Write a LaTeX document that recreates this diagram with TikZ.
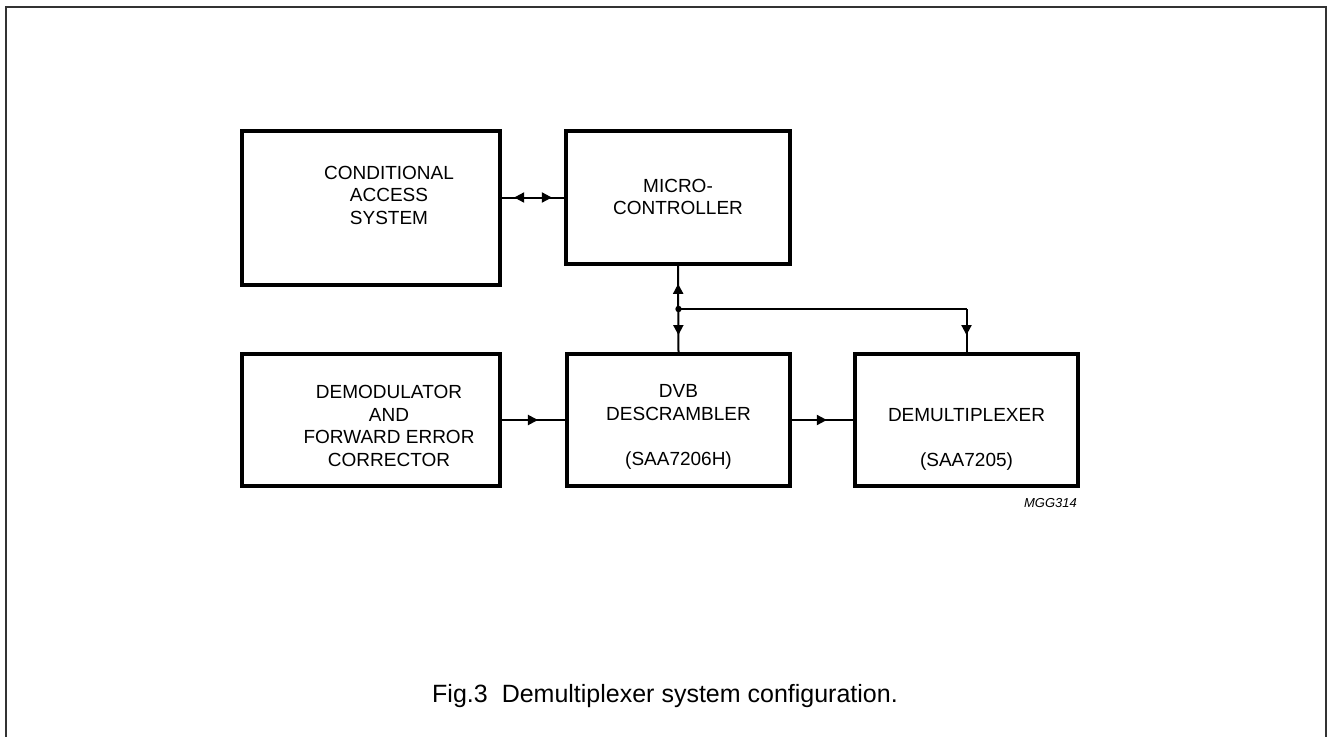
\documentclass[tikz,border=0pt]{standalone}
\usepackage{fontspec}
\setmainfont{Liberation Sans}
\usetikzlibrary{arrows.meta,decorations.markings}
\newcommand\boxfont{\fontsize{19}{22.5}\selectfont}
\tikzset{
  >={Triangle[length=10pt,width=10pt]},
  blk/.style={draw, line width=3.2pt, inner sep=0pt},
  txt/.style={align=center, inner sep=0pt, font=\boxfont},
  conn/.style={line width=2pt},
  bus/.style={line width=1.7pt},
  fwd/.style={postaction={decorate}, decoration={markings, mark=at position #1 with {\arrow{>}}}},
  duo/.style 2 args={postaction={decorate}, decoration={markings,
      mark=at position #1 with {\arrowreversed{>}},
      mark=at position #2 with {\arrow{>}}}},
}
\begin{document}
\begin{tikzpicture}[x=1pt, y=-1pt]
  %%%%% START %%%%%
  \useasboundingbox (0,0) rectangle (1327,736);
  \clip (0,0) rectangle (1327,736);
  \draw[line width=2pt, black!80] (6,7) rectangle (1326,800);

  % blocks
  \node[blk, minimum width=258pt, minimum height=154pt] (cas) at (371,208) {};
  \node[blk, minimum width=224pt, minimum height=133pt] (micro) at (678,197.5) {};
  \node[blk, minimum width=258pt, minimum height=132pt] (demod) at (371,420) {};
  \node[blk, minimum width=223pt, minimum height=132pt] (dvb) at (678.5,420) {};
  \node[blk, minimum width=223pt, minimum height=132pt] (demux) at (966.5,420) {};

  % texts
  \node[txt] (castxt) at (389,195) {CONDITIONAL\\ACCESS\\SYSTEM};
  \node[txt] (microtxt) at (678,197) {MICRO-\\CONTROLLER};
  \node[txt] (demodtxt) at (389,426) {DEMODULATOR\\AND\\FORWARD ERROR\\CORRECTOR};
  \node[txt] (dvbtxt) at (678.5,427) {DVB\\DESCRAMBLER\\[22.5pt](SAA7206H)};
  \node[txt] (demuxtxt) at (966.5,439) {DEMULTIPLEXER\\[22.5pt](SAA7205)};

  % connections
  \draw[conn, duo={0.2}{0.8}] (micro.west -| cas.east) -- (micro.west);
  \draw[conn, duo={0.21}{0.8}] (micro.south) -- (dvb.north);
  \coordinate (jn) at (678.5,309);
  \fill (jn) circle (3.2pt);
  \draw[bus] (jn) -- (jn -| demux.north);
  \draw[conn, fwd=0.6] (jn -| demux.north) -- (demux.north);
  \draw[conn, fwd=0.57] (demod.east) -- (dvb.west);
  \draw[conn, fwd=0.57] (dvb.east) -- (demux.west);

  \node[anchor=base east, inner sep=0pt, font=\fontsize{13}{15}\selectfont\itshape] (code) at (1077,507) {MGG314};
  \node[anchor=base, inner sep=0pt, font=\fontsize{25}{30}\selectfont] (caption) at (665,702) {Fig.3\hspace{0.56em}Demultiplexer system configuration.};
  %%%%% END %%%%%
\end{tikzpicture}
\end{document}
